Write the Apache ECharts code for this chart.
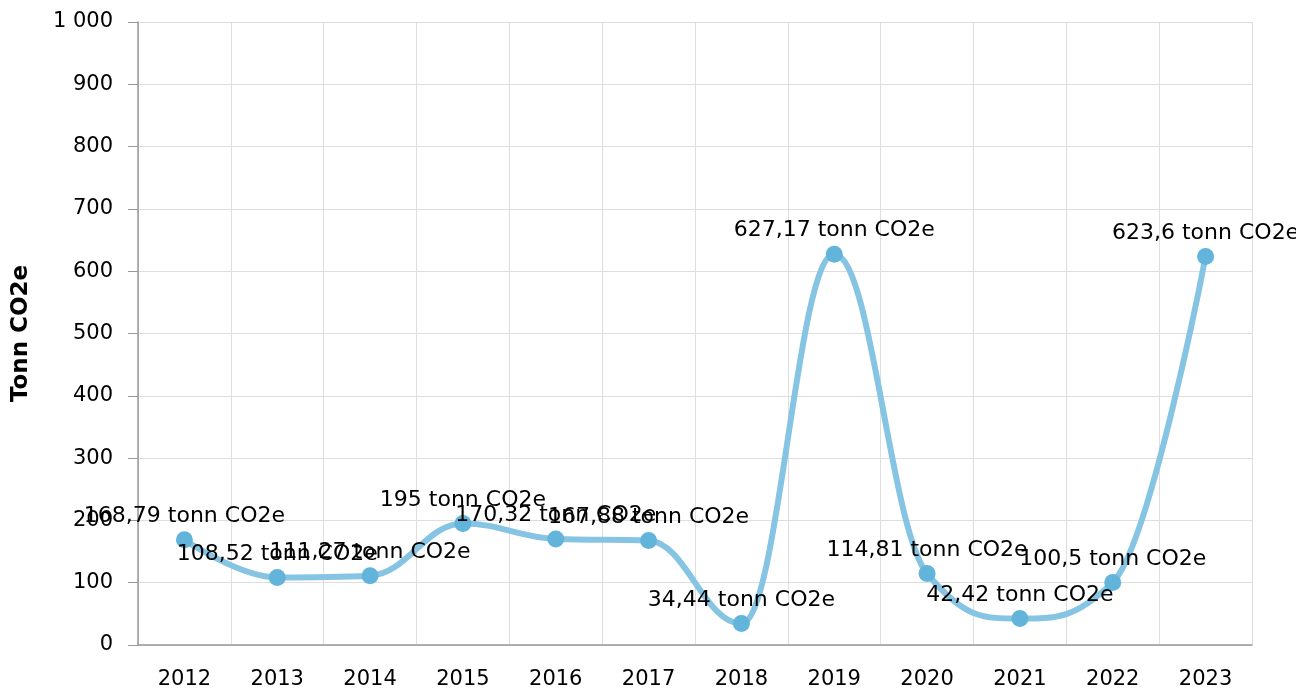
<!DOCTYPE html>
<html>
<head>
<meta charset="utf-8">
<script src="https://cdn.jsdelivr.net/npm/echarts@6/dist/echarts.min.js"></script>
<style>
	html, body { margin: 0; padding: 0; background: #fff; }
	#chart { width: 1296px; height: 690px; }
</style>
</head>
<body>
<div id="chart"></div>
<script>
var years = ['2012', '2013', '2014', '2015', '2016', '2017', '2018', '2019', '2020', '2021', '2022', '2023'];
var emissions = [168.79, 108.52, 111.27, 195, 170.32, 167.88, 34.44, 627.17, 114.81, 42.42, 100.5, 623.6];
var unit = 'tonn CO2e';
var yTitle = 'Tonn CO2e';

var font = 'DejaVu Sans, Verdana, sans-serif';

function fmtThousands(v) {
	return String(v).replace(/\B(?=(\d{3})+(?!\d))/g, ' ');
}

// spline path through the points (cardinal style, no false extremes)
function splinePath(pts) {
	var s = 1.5, d = s + 1;
	var right = [];
	var path = 'M' + pts[0][0] + ' ' + pts[0][1];
	for (var i = 1; i < pts.length; i++) {
		var x = pts[i][0], y = pts[i][1];
		var lx = pts[i - 1][0], ly = pts[i - 1][1];
		var lcx = x, lcy = y;
		if (i < pts.length - 1) {
			var nx = pts[i + 1][0], ny = pts[i + 1][1];
			lcx = (s * x + lx) / d;
			lcy = (s * y + ly) / d;
			var rcx = (s * x + nx) / d;
			var rcy = (s * y + ny) / d;
			var corr = 0;
			if (rcx !== lcx) {
				corr = ((rcy - lcy) * (rcx - x)) / (rcx - lcx) + y - rcy;
			}
			lcy += corr;
			rcy += corr;
			if (lcy > ly && lcy > y) {
				lcy = Math.max(ly, y); rcy = 2 * y - lcy;
			} else if (lcy < ly && lcy < y) {
				lcy = Math.min(ly, y); rcy = 2 * y - lcy;
			}
			if (rcy > ny && rcy > y) {
				rcy = Math.max(ny, y); lcy = 2 * y - rcy;
			} else if (rcy < ny && rcy < y) {
				rcy = Math.min(ny, y); lcy = 2 * y - rcy;
			}
			right[i] = [rcx, rcy];
		}
		var c0 = right[i - 1] || pts[i - 1];
		path += ' C' + c0[0] + ' ' + c0[1] + ' ' + lcx + ' ' + lcy + ' ' + x + ' ' + y;
	}
	return path;
}

var chart = echarts.init(document.getElementById('chart'));
chart.setOption({
	backgroundColor: '#fff',
	animation: false,
	grid: {
		left: 138,
		right: 44,
		top: 22,
		bottom: 44
	},
	xAxis: {
		type: 'category',
		data: years,
		boundaryGap: true,
		axisLine: { lineStyle: { color: '#999', width: 1.5 } },
		axisTick: { alignWithLabel: true, length: 10, lineStyle: { color: '#999' } },
		axisLabel: { color: '#000', fontFamily: font, fontSize: 21, margin: 24 },
		splitLine: { show: true, lineStyle: { color: '#dedede' } }
	},
	yAxis: {
		type: 'value',
		min: 0,
		max: 1000,
		interval: 100,
		name: yTitle,
		nameLocation: 'middle',
		nameGap: 105,
		nameTextStyle: { color: '#000', fontFamily: font, fontSize: 23, fontWeight: 'bold' },
		axisLine: { show: true, lineStyle: { color: '#999', width: 1.5 } },
		axisTick: { show: true, length: 10, lineStyle: { color: '#999' } },
		axisLabel: {
			color: '#000', fontFamily: font, fontSize: 21, margin: 25,
			formatter: function(v) { return fmtThousands(v); }
		},
		splitLine: { lineStyle: { color: '#dedede' } }
	},
	series: [{
		// the curve
		type: 'custom',
		z: 2,
		silent: true,
		data: [0],
		renderItem: function(params, api) {
			var pts = [];
			for (var i = 0; i < emissions.length; i++) {
				pts.push(api.coord([i, emissions[i]]));
			}
			return {
				type: 'path',
				shape: { pathData: splinePath(pts) },
				style: { fill: null, stroke: '#86c4e4', lineWidth: 6, lineCap: 'round', lineJoin: 'round' }
			};
		}
	}, {
		// markers + labels
		type: 'line',
		z: 3,
		data: emissions,
		symbol: 'circle',
		symbolSize: 17,
		lineStyle: { opacity: 0 },
		itemStyle: { color: '#62b4db' },
		label: {
			show: true,
			position: 'top',
			distance: 4,
			color: '#000',
			fontFamily: font,
			fontSize: 22,
			formatter: function(p) {
				return String(p.value).replace('.', ',') + ' ' + unit;
			}
		}
	}]
});
</script>
</body>
</html>
